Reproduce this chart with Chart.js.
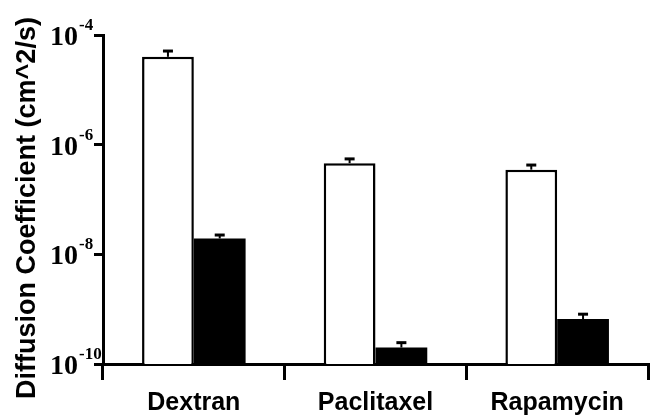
<!DOCTYPE html>
<html>
<head>
<meta charset="utf-8">
<script src="https://cdn.jsdelivr.net/npm/chart.js@4.4.0/dist/chart.umd.min.js"></script>
<style>
  body { margin: 0; background: #fff; }
  #wrap { width: 652px; height: 417px; }
</style>
</head>
<body>
<div id="wrap"><canvas id="myChart"></canvas></div>
<script>
var categories = ['Dextran', 'Paclitaxel', 'Rapamycin'];
var whiteValues = [4.0e-5, 4.6e-7, 3.5e-7];
var whiteErrors = [1.1e-5, 0.9e-7, 0.75e-7];
var blackValues = [1.95e-8, 2.0e-10, 6.6e-10];
var blackErrors = [0.3e-8, 0.45e-10, 1.5e-10];
var tickValues = [1e-10, 1e-8, 1e-6, 1e-4];
var yTitle = 'Diffusion Coefficient (cm^2/s)';

// upper error bars with a cap, placed through the y scale
var errorBars = {
    id: 'errorBars',
    afterDatasetsDraw: function(chart) {
        var ctx = chart.ctx;
        var y = chart.scales.y;
        chart.data.datasets.forEach(function(ds, i) {
            var meta = chart.getDatasetMeta(i);
            meta.data.forEach(function(bar, j) {
                var top = y.getPixelForValue(ds.data[j] + ds.errors[j]);
                ctx.save();
                ctx.strokeStyle = '#000';
                ctx.lineWidth = 2;
                ctx.beginPath();
                ctx.moveTo(bar.x, bar.y);
                ctx.lineTo(bar.x, top);
                ctx.stroke();
                ctx.lineWidth = 3;
                ctx.beginPath();
                ctx.moveTo(bar.x - 5, top);
                ctx.lineTo(bar.x + 5, top);
                ctx.stroke();
                ctx.restore();
            });
        });
    }
};

// 10 with a superscript exponent for the log ticks, plus the rotated y title
var powerLabels = {
    id: 'powerLabels',
    afterDraw: function(chart) {
        var ctx = chart.ctx;
        var y = chart.scales.y;
        var right = chart.chartArea.left - 25;
        y.ticks.forEach(function(t) {
            var py = y.getPixelForValue(t.value);
            var exp = Math.round(Math.log10(t.value));
            ctx.save();
            ctx.fillStyle = '#000';
            ctx.textBaseline = 'alphabetic';
            ctx.font = 'bold 28px "Liberation Serif", "Times New Roman", serif';
            ctx.textAlign = 'right';
            ctx.fillText('10', right, py + 10);
            ctx.font = 'bold 17px "Liberation Serif", "Times New Roman", serif';
            ctx.textAlign = 'left';
            ctx.fillText('-' + Math.abs(exp), right + 1, py - 5);
            ctx.restore();
        });

        ctx.save();
        ctx.fillStyle = '#000';
        ctx.font = 'bold 27px "Liberation Sans", Arial, sans-serif';
        ctx.textAlign = 'center';
        ctx.textBaseline = 'alphabetic';
        ctx.translate(35, 208);
        ctx.rotate(-Math.PI / 2);
        ctx.fillText(yTitle, 0, 0);
        ctx.restore();
    }
};

var ctx = document.getElementById('myChart').getContext('2d');
var myChart = new Chart(ctx, {
    type: 'bar',
    data: {
        labels: categories,
        datasets: [
            {
                data: whiteValues,
                errors: whiteErrors,
                backgroundColor: '#fff',
                borderColor: '#000',
                borderWidth: 2.5,
                categoryPercentage: 0.57,
                barPercentage: 1.0
            },
            {
                data: blackValues,
                errors: blackErrors,
                backgroundColor: '#000',
                borderColor: '#000',
                borderWidth: 0,
                categoryPercentage: 0.57,
                barPercentage: 1.0
            }
        ]
    },
    options: {
        responsive: true,
        maintainAspectRatio: false,
        animation: false,
        layout: { padding: { top: 35, right: 4, left: 0, bottom: 0 } },
        plugins: {
            legend: { display: false },
            tooltip: { enabled: false }
        },
        scales: {
            x: {
                offset: true,
                afterFit: function(scale) {
                    scale.height = 53;
                },
                grid: {
                    offset: true,
                    drawOnChartArea: false,
                    color: '#000',
                    lineWidth: 3,
                    tickLength: 16
                },
                border: { color: '#000', width: 3 },
                ticks: {
                    color: '#000',
                    padding: 10,
                    font: { family: '"Liberation Sans", Arial, sans-serif', size: 25, weight: 'bold', lineHeight: 1.08 }
                }
            },
            y: {
                type: 'logarithmic',
                min: 1e-10,
                max: 1e-4,
                afterBuildTicks: function(scale) {
                    scale.ticks = tickValues.map(function(v) { return { value: v }; });
                },
                afterFit: function(scale) {
                    scale.width = 103;
                },
                grid: {
                    drawOnChartArea: false,
                    color: '#000',
                    lineWidth: 3,
                    tickLength: 9
                },
                border: { color: '#000', width: 3 },
                ticks: { display: false },
                title: { display: false }
            }
        }
    },
    plugins: [errorBars, powerLabels]
});
</script>
</body>
</html>
